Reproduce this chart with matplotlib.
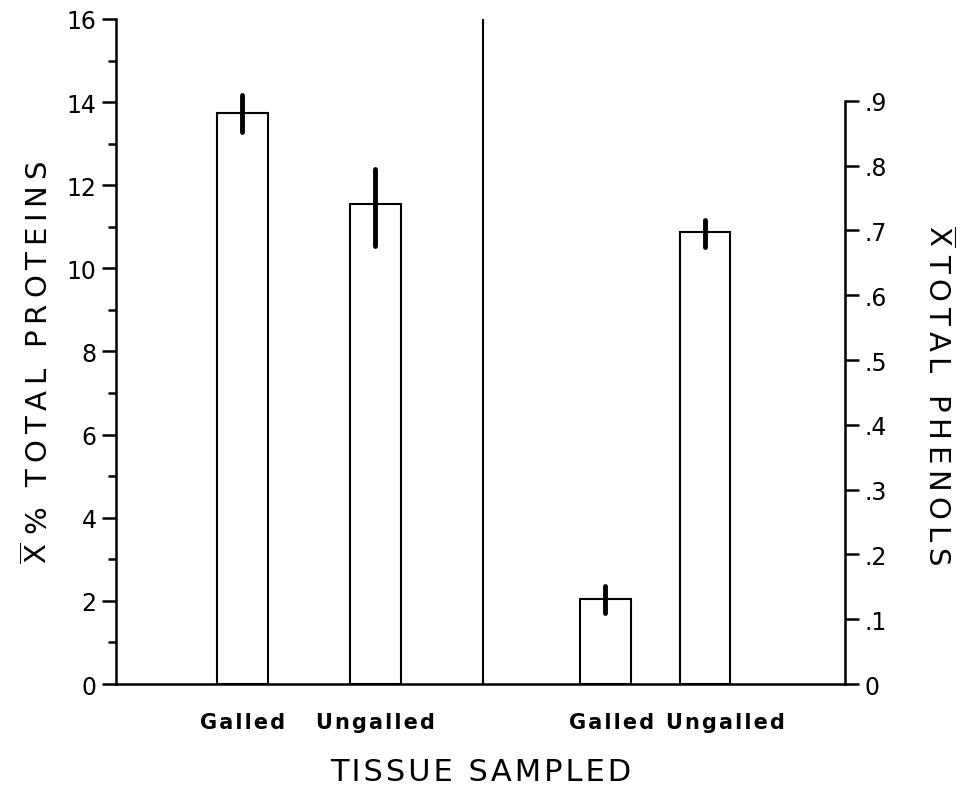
"""
Galled vs ungalled tissue: mean % total proteins and mean total phenols
"""

import matplotlib
from matplotlib import pyplot as plt
from matplotlib.ticker import MultipleLocator
from matplotlib.transforms import ScaledTranslation

matplotlib.use("Agg")

# data
categories = ["Galled", "Ungalled", "Galled", "Ungalled"]
protein_mean = [13.73, 11.55]
protein_lo = [13.27, 10.55]
protein_hi = [14.18, 12.39]
phenol_mean = [0.131, 0.697]
phenol_lo = [0.109, 0.675]
phenol_hi = [0.151, 0.716]

left_ticks = [0, 2, 4, 6, 8, 10, 12, 14, 16]
right_ticks = [0, 0.1, 0.2, 0.3, 0.4, 0.5, 0.6, 0.7, 0.8, 0.9]
right_labels = ["0", ".1", ".2", ".3", ".4", ".5", ".6", ".7", ".8", ".9"]

POS = [0.95, 1.95, 3.68, 4.43]  # bar centres
DIV = 2.76  # divider between the two panels
W = 0.38
LW = 1.8
XBAR = r"$\overline{\mathrm{X}}$"
HS = "\u200a"  # hair space
TS = "\u2009"  # thin space, to spread the lettering like the original


def spaced(s, sp=HS):
    return sp.join(s)


plt.rcParams["font.family"] = ["DejaVu Sans"]
plt.rcParams["mathtext.fontset"] = "dejavusans"

fig = plt.figure(figsize=(9.68, 8.12), dpi=100)
ax = fig.add_axes([0.1198, 0.1564, 0.753, 0.819])
ax2 = ax.twinx()

# proteins, left scale
ax.bar(POS[:2], protein_mean, width=W, fill=False, edgecolor="black", linewidth=1.5)
ax.vlines(POS[:2], protein_lo, protein_hi, color="black", linewidth=3.5, capstyle="round")

# phenols, right scale
ax2.bar(POS[2:], phenol_mean, width=W, fill=False, edgecolor="black", linewidth=1.5)
ax2.vlines(POS[2:], phenol_lo, phenol_hi, color="black", linewidth=3.5, capstyle="round")

ax.axvline(DIV, color="black", linewidth=1.5)

ax.set_xlim(0, 5.48)
ax.set_ylim(0, 16)
ax2.set_ylim(0, 16 * 0.9 / 14.03)

for a in (ax, ax2):
    a.spines["top"].set_visible(False)
    a.spines["left"].set_linewidth(LW)
    a.spines["bottom"].set_linewidth(LW)
    a.spines["right"].set_linewidth(LW)
ax.spines["right"].set_visible(False)
ax2.spines["left"].set_visible(False)
ax2.spines["bottom"].set_visible(False)
ax2.spines["right"].set_bounds(0, 0.9)

ax.set_yticks(left_ticks)
ax.set_yticklabels([str(t) for t in left_ticks])
ax.yaxis.set_minor_locator(MultipleLocator(1))
ax.tick_params(axis="y", which="major", length=10, width=LW, labelsize=17, pad=4)
ax.tick_params(axis="y", which="minor", length=6, width=LW)

ax2.set_yticks(right_ticks)
ax2.set_yticklabels(right_labels)
ax2.tick_params(axis="y", which="major", length=10, width=LW, labelsize=17, pad=4)

ax.set_xticks(POS)
ax.set_xticklabels([spaced(c) for c in categories], fontsize=15, fontweight="bold")
ax.tick_params(axis="x", length=0, pad=20)
# the right-panel labels sit a little right of their bars in the original
for lab, dx in zip(ax.get_xticklabels()[2:], (6, 20)):
    lab.set_transform(lab.get_transform() + ScaledTranslation(dx / 100, 0, fig.dpi_scale_trans))

ax.set_ylabel(XBAR + " " + spaced("% TOTAL PROTEINS", TS), fontsize=21)
ax.yaxis.set_label_coords(-0.085, 0.485)
ax2.set_ylabel(XBAR + " " + spaced("TOTAL PHENOLS", TS), fontsize=21, rotation=-90)
ax2.yaxis.set_label_coords(1.15, 0.435)
ax.set_xlabel(spaced("TISSUE SAMPLED"), fontsize=22, labelpad=18)

fig.savefig("out.png", dpi=100)
